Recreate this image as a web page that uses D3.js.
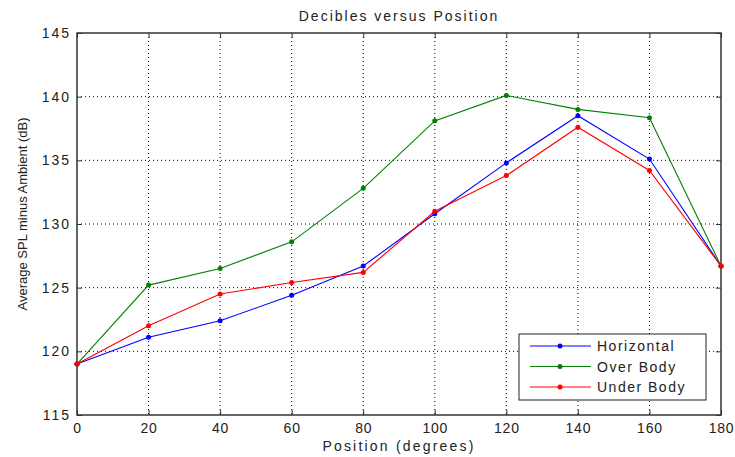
<!DOCTYPE html>
<html>
<head>
<meta charset="utf-8">
<script src="https://cdn.jsdelivr.net/npm/d3@7"></script>
<style>
  body { margin: 0; background: #fff; }
  text { font-family: "Liberation Sans", Arial, sans-serif; fill: #222; }
</style>
</head>
<body>
<div id="chart"></div>
<script>
const POSITIONS = [0, 20, 40, 60, 80, 100, 120, 140, 160, 180];
const HORIZONTAL = [119.0, 121.1, 122.4, 124.4, 126.7, 130.8, 134.8, 138.5, 135.1, 126.7];
const OVER_BODY = [119.0, 125.2, 126.5, 128.6, 132.8, 138.1, 140.1, 139.0, 138.35, 126.7];
const UNDER_BODY = [119.0, 122.0, 124.5, 125.4, 126.2, 131.0, 133.8, 137.6, 134.2, 126.7];
const X_TICKS = [0, 20, 40, 60, 80, 100, 120, 140, 160, 180];
const Y_TICKS = [115, 120, 125, 130, 135, 140, 145];

const series = [
  { name: "Horizontal", color: "#0000ff", values: HORIZONTAL },
  { name: "Over Body", color: "#008000", values: OVER_BODY },
  { name: "Under Body", color: "#ff0000", values: UNDER_BODY },
];

const W = 735, H = 457;
const margin = { top: 33, right: 14, bottom: 42, left: 77 };
const width = W - margin.left - margin.right;
const height = H - margin.top - margin.bottom;

const svg = d3.select("#chart").append("svg")
  .attr("width", W).attr("height", H);

const g = svg.append("g")
  .attr("transform", `translate(${margin.left},${margin.top})`);

const x = d3.scaleLinear().domain([0, 180]).range([0, width]);
const y = d3.scaleLinear().domain([115, 145]).range([height, 0]);

// grid
g.append("g").selectAll("line").data(X_TICKS.slice(1, -1)).join("line")
  .attr("x1", (d) => x(d)).attr("x2", (d) => x(d))
  .attr("y1", 0).attr("y2", height)
  .attr("stroke", "#000").attr("stroke-width", 1)
  .attr("stroke-dasharray", "1,3");
g.append("g").selectAll("line").data(Y_TICKS.slice(1, -1)).join("line")
  .attr("y1", (d) => y(d)).attr("y2", (d) => y(d))
  .attr("x1", 0).attr("x2", width)
  .attr("stroke", "#000").attr("stroke-width", 1)
  .attr("stroke-dasharray", "1,3");

// axes, ticks inward, mirrored on top/right
const styleAxis = (spacing) => (sel) => {
  sel.select(".domain").remove();
  sel.selectAll(".tick line").attr("stroke", "#333");
  sel.selectAll(".tick text")
    .style("font-size", "14px")
    .style("letter-spacing", spacing)
    .attr("fill", "#222");
};

g.append("g").attr("transform", `translate(0,${height})`)
  .call(d3.axisBottom(x).tickValues(X_TICKS).tickSizeInner(-5).tickSizeOuter(0).tickPadding(8))
  .call(styleAxis("0.8px"));
g.append("g")
  .call(d3.axisTop(x).tickValues(X_TICKS).tickSizeInner(-5).tickSizeOuter(0).tickFormat(""))
  .call(styleAxis("0px"));
g.append("g")
  .call(d3.axisLeft(y).tickValues(Y_TICKS).tickSizeInner(-5).tickSizeOuter(0).tickPadding(6))
  .call(styleAxis("2px"));
g.append("g").attr("transform", `translate(${width},0)`)
  .call(d3.axisRight(y).tickValues(Y_TICKS).tickSizeInner(-5).tickSizeOuter(0).tickFormat(""))
  .call(styleAxis("0px"));

g.append("rect")
  .attr("width", width).attr("height", height)
  .attr("fill", "none").attr("stroke", "#333").attr("stroke-width", 1.5);

// lines
const line = d3.line()
  .x((d, i) => x(POSITIONS[i]))
  .y((d) => y(d));

series.forEach((s) => {
  g.append("path")
    .datum(s.values)
    .attr("fill", "none")
    .attr("stroke", s.color)
    .attr("stroke-width", 1.1)
    .attr("d", line);
  g.append("g").selectAll("circle").data(s.values).join("circle")
    .attr("cx", (d, i) => x(POSITIONS[i]))
    .attr("cy", (d) => y(d))
    .attr("r", 2.5)
    .attr("fill", s.color);
});

// title and labels
svg.append("text")
  .attr("x", margin.left + width / 2).attr("y", 21)
  .attr("text-anchor", "middle")
  .style("font-size", "14px")
  .style("letter-spacing", "2px")
  .text("Decibles versus Position");

svg.append("text")
  .attr("x", margin.left + width / 2).attr("y", H - 6)
  .attr("text-anchor", "middle")
  .style("font-size", "14px")
  .style("letter-spacing", "2.2px")
  .text("Position (degrees)");

svg.append("text")
  .attr("transform", `translate(27,214) rotate(-90)`)
  .attr("text-anchor", "middle")
  .style("font-size", "13px")
  .text("Average SPL minus Ambient (dB)");

// legend
const legend = svg.append("g").attr("transform", "translate(519,334)");
legend.append("rect")
  .attr("width", 187).attr("height", 66)
  .attr("fill", "#fff").attr("stroke", "#222").attr("stroke-width", 1);
series.forEach((s, i) => {
  const row = legend.append("g").attr("transform", `translate(0,${12 + i * 20.5})`);
  row.append("line")
    .attr("x1", 11).attr("x2", 72)
    .attr("stroke", s.color).attr("stroke-width", 1.1);
  row.append("circle").attr("cx", 41).attr("r", 2.5).attr("fill", s.color);
  row.append("text")
    .attr("x", 78).attr("dy", "0.36em")
    .style("font-size", "14px")
    .style("letter-spacing", "1.5px")
    .text(s.name);
});
</script>
</body>
</html>
